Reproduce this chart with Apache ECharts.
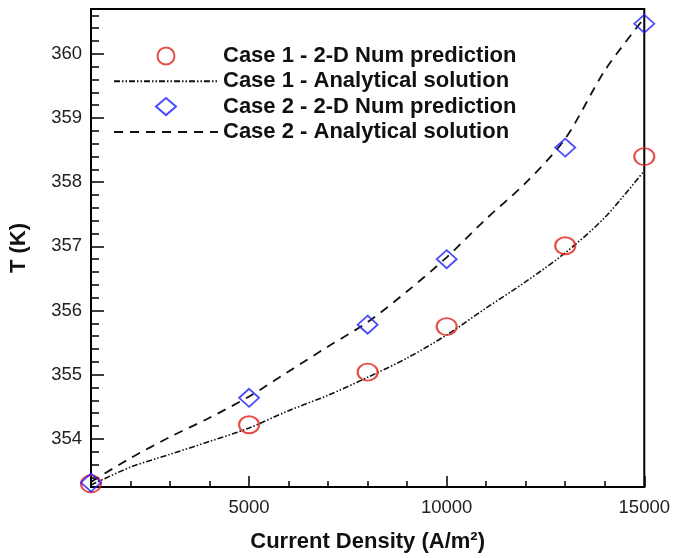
<!DOCTYPE html>
<html>
<head>
<meta charset="utf-8">
<script src="https://cdn.jsdelivr.net/npm/echarts@6/dist/echarts.min.js"></script>
<style>html,body{margin:0;padding:0;background:#fff;}#c{width:673px;height:558px;}</style>
</head>
<body>
<div id="c"></div>
<script>
// Data
var numX = [1000, 5000, 8000, 10000, 13000, 15000];
var case1Num = [353.30, 354.22, 355.04, 355.75, 357.01, 358.40];
var case2Num = [353.32, 354.64, 355.78, 356.80, 358.54, 360.47];

var anaX = [1000, 2000, 3000, 4000, 5000, 6000, 7000, 8000, 9000, 10000, 11000, 12000, 13000, 14000, 15000];
var case1Ana = [353.28, 353.56, 353.76, 353.96, 354.17, 354.44, 354.68, 354.96, 355.26, 355.62, 356.04, 356.45, 356.90, 357.45, 358.18];
var case2Ana = [353.33, 353.70, 354.03, 354.33, 354.66, 355.05, 355.44, 355.82, 356.30, 356.83, 357.43, 357.99, 358.68, 359.74, 360.56];

var xMajorTicks = [5000, 10000, 15000];
var yMajorTicks = [354, 355, 356, 357, 358, 359, 360];
var yMinorTicks = [353.4, 353.6, 353.8, 354.2, 354.4, 354.6, 354.8, 355.2, 355.4, 355.6, 355.8,
  356.2, 356.4, 356.6, 356.8, 357.2, 357.4, 357.6, 357.8, 358.2, 358.4, 358.6, 358.8,
  359.2, 359.4, 359.6, 359.8, 360.2, 360.4, 360.6];

var names = ['Case 1 - 2-D Num prediction', 'Case 1 - Analytical solution',
             'Case 2 - 2-D Num prediction', 'Case 2 - Analytical solution'];

function pairs(xs, ys) { return xs.map(function (x, i) { return [x, ys[i]]; }); }

var FONT = 'Liberation Sans, Arial, sans-serif';
var xMin = 1000, xMax = 15000, yMin = 353.25, yMax = 360.7;

var chart = echarts.init(document.getElementById('c'), null, {renderer: 'canvas'});
chart.setOption({
  animation: false,
  backgroundColor: '#fff',
  grid: {left: 90, right: 28, top: 9, bottom: 68, show: true, borderColor: '#000', borderWidth: 2, backgroundColor: 'transparent'},
  legend: {
    orient: 'vertical', left: 108, top: 40,
    itemWidth: 104, itemHeight: 17, itemGap: 3.3,
    symbolKeepAspect: true,
    textStyle: {fontFamily: FONT, fontWeight: 'bold', fontSize: 22, color: '#111', lineHeight: 22},
    data: [
      {name: names[0]},
      {name: names[1], itemStyle: {opacity: 0}},
      {name: names[2], icon: 'path://M10,0 L20,8.5 L10,17 L0,8.5 Z'},
      {name: names[3], itemStyle: {opacity: 0}}
    ]
  },
  xAxis: [{
    type: 'value', min: xMin, max: xMax, position: 'bottom',
    name: 'Current Density (A/m²)', nameLocation: 'middle', nameGap: 44,
    nameTextStyle: {fontFamily: FONT, fontWeight: 'bold', fontSize: 22, color: '#111'},
    axisLine: {show: true, lineStyle: {color: '#000', width: 2}},
    axisTick: {show: true, inside: true, length: 11, customValues: xMajorTicks, lineStyle: {color: '#000', width: 1.5}},
    axisLabel: {customValues: xMajorTicks, margin: 11, fontFamily: FONT, fontSize: 18.5, color: '#222',
      formatter: function (v) { return String(v); }},
    splitLine: {show: false}
  }, {
    type: 'value', min: xMin, max: xMax, interval: 1000, position: 'bottom',
    axisLine: {show: false},
    axisTick: {show: true, inside: true, length: 6, lineStyle: {color: '#000', width: 1.5}},
    axisLabel: {show: false},
    splitLine: {show: false}
  }],
  yAxis: [{
    type: 'value', min: yMin, max: yMax, position: 'left',
    name: 'T (K)', nameLocation: 'middle', nameGap: 61, nameRotate: 90,
    nameTextStyle: {fontFamily: FONT, fontWeight: 'bold', fontSize: 22, color: '#111'},
    axisLine: {show: true, lineStyle: {color: '#000', width: 2}},
    axisTick: {show: true, inside: true, length: 13, customValues: yMajorTicks, lineStyle: {color: '#000', width: 1.5}},
    axisLabel: {customValues: yMajorTicks, margin: 9, fontFamily: FONT, fontSize: 18.5, color: '#222'},
    splitLine: {show: false}
  }, {
    type: 'value', min: yMin, max: yMax, position: 'left',
    axisLine: {show: false},
    axisTick: {show: true, inside: true, length: 8, customValues: yMinorTicks, lineStyle: {color: '#000', width: 1.5}},
    axisLabel: {show: false},
    splitLine: {show: false}
  }],
  series: [
    {
      name: names[0], type: 'scatter', xAxisIndex: 0, yAxisIndex: 0,
      data: pairs(numX, case1Num), symbol: 'circle', symbolSize: [20, 17], z: 3,
      itemStyle: {color: 'rgba(255,255,255,0)', borderColor: '#e0201c', borderWidth: 2}
    },
    {
      name: names[1], type: 'line', xAxisIndex: 0, yAxisIndex: 0,
      data: pairs(anaX, case1Ana), smooth: 0.3, symbol: 'none', showSymbol: false, z: 2,
      lineStyle: {color: '#111', width: 1.6, type: [6, 2, 1.5, 2, 1.5, 2]}
    },
    {
      name: names[2], type: 'scatter', xAxisIndex: 0, yAxisIndex: 0,
      data: pairs(numX, case2Num), symbol: 'diamond', symbolSize: [20, 18], z: 3,
      itemStyle: {color: 'rgba(255,255,255,0)', borderColor: '#1f1fff', borderWidth: 1.8}
    },
    {
      name: names[3], type: 'line', xAxisIndex: 0, yAxisIndex: 0,
      data: pairs(anaX, case2Ana), smooth: 0.3, symbol: 'none', showSymbol: false, z: 2,
      lineStyle: {color: '#111', width: 1.8, type: [9, 7]}
    }
  ]
});
</script>
</body>
</html>
